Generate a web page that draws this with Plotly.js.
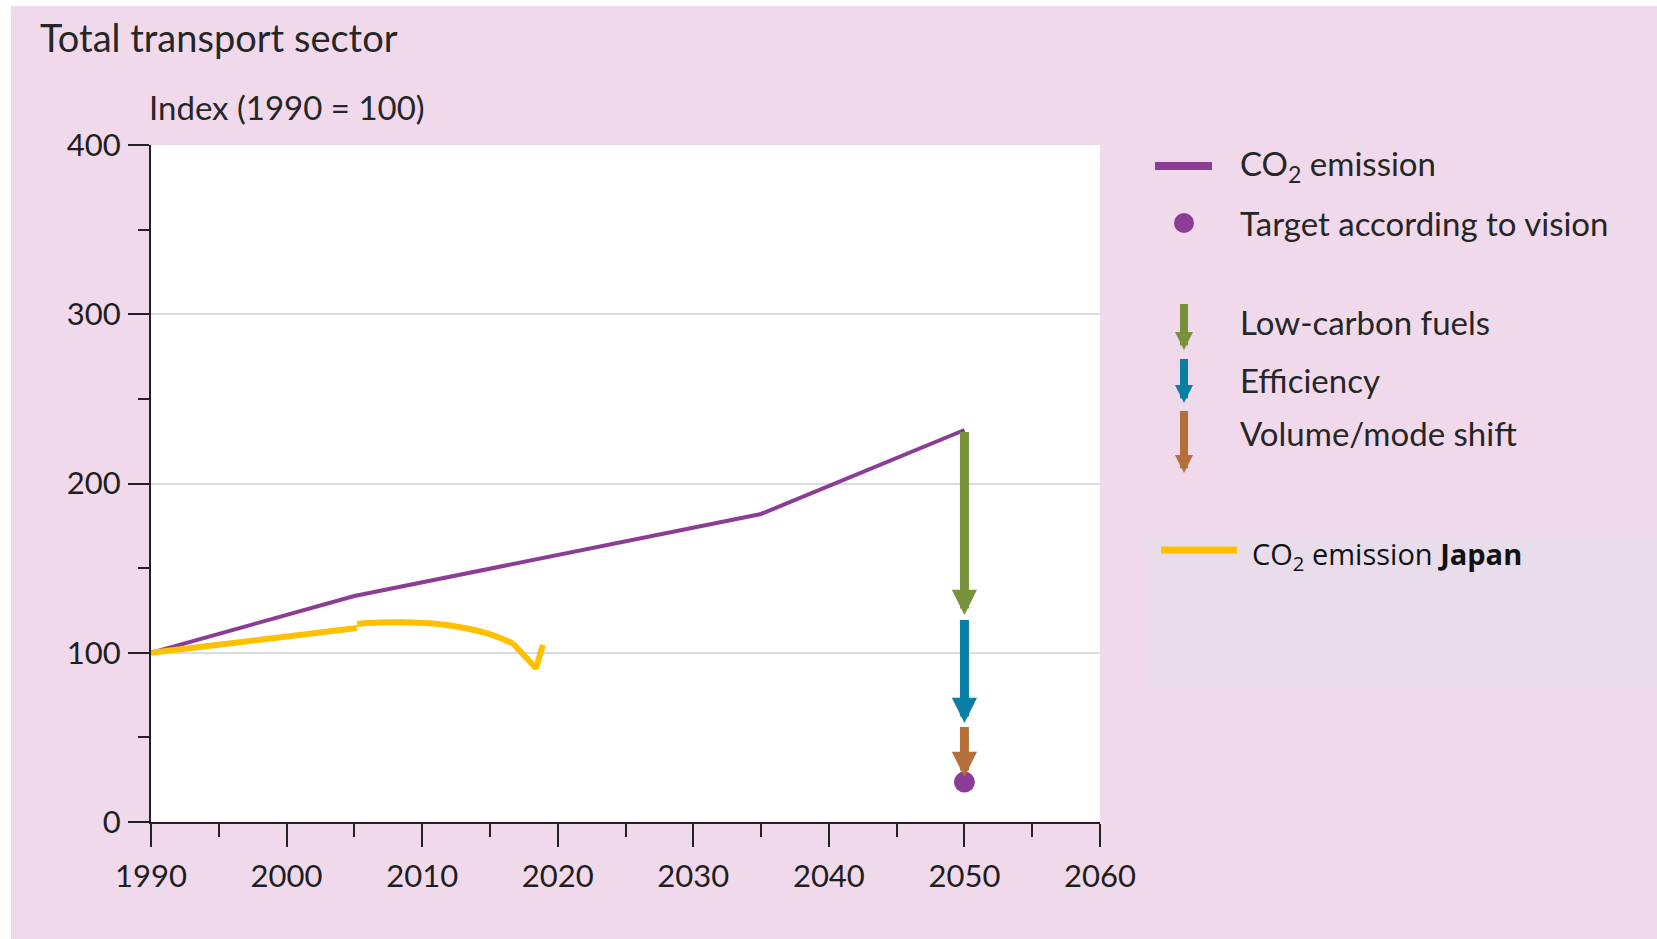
<!DOCTYPE html>
<html>
<head>
<meta charset="utf-8">
<script src="https://cdn.plot.ly/plotly-3.0.1.min.js"></script>
<style>
  html, body { margin: 0; padding: 0; background: #ffffff; }
  #chart { position: absolute; left: 11px; top: 6px; width: 1646px; height: 933px; }
</style>
</head>
<body>
<div id="chart"></div>
<script>
// ---- data ----
const co2Years = [1990, 2005, 2035, 2050];
const co2Values = [100, 133.5, 182, 231.6];

const targetYear = [2050];
const targetValue = [23.6];

const measureNames = ['Low-carbon fuels', 'Efficiency', 'Volume/mode shift'];
const measureYear = 2050;
const measureFrom = [231.6, 120.5, 57.3];
const measureTo = [122.3, 58.5, 26.6];
const measureColors = ['#77923b', '#0b7ea5', '#b56f3a'];

const japanYearsA = [1990, 2005.2];
const japanValuesA = [100, 114.6];
const japanYearsB = [2005.2, 2006.8, 2008.6, 2010.5, 2012.3, 2014.8, 2016.7];
const japanValuesB = [117.0, 117.8, 118.0, 117.4, 115.8, 111.4, 105.5];
const japanYearsC = [2016.7, 2018.4, 2018.9];
const japanValuesC = [105.5, 90.8, 104.6];

const xTicks = [1990, 2000, 2010, 2020, 2030, 2040, 2050, 2060];
const yTicks = [0, 100, 200, 300, 400];

// ---- style ----
const PURPLE = '#8b3d96';
const YELLOW = '#ffc000';
const PINK = '#f0d9eb';
const TXT = '#262626';
const FONT = 'Lato, "Open Sans", sans-serif';

// plot-area pixel geometry helpers for paper-anchored legend items
const L = 151, R = 1100, T = 145, B = 822;
const px = X => (X - L) / (R - L);
const py = Y => (B - Y) / (B - T);

const traces = [
  { x: co2Years, y: co2Values, mode: 'lines', line: { color: PURPLE, width: 4 }, hoverinfo: 'skip' },
  { x: japanYearsA, y: japanValuesA, mode: 'lines', line: { color: YELLOW, width: 6 }, hoverinfo: 'skip' },
  { x: japanYearsB, y: japanValuesB, mode: 'lines', line: { color: YELLOW, width: 6, shape: 'spline', smoothing: 1 }, hoverinfo: 'skip' },
  { x: japanYearsC, y: japanValuesC, mode: 'lines', line: { color: YELLOW, width: 6 }, hoverinfo: 'skip' },
  { x: targetYear, y: targetValue, mode: 'markers', marker: { color: PURPLE, size: 21 }, hoverinfo: 'skip' }
];

const annotations = [];
// vertical measure arrows at 2050
measureNames.forEach((n, i) => {
  annotations.push({
    x: measureYear, y: measureTo[i], ax: measureYear, ay: measureFrom[i],
    xref: 'x', yref: 'y', axref: 'x', ayref: 'y',
    text: ' ', showarrow: true, arrowhead: 2, arrowsize: 0.56, arrowwidth: 9,
    arrowcolor: measureColors[i], standoff: 0, startstandoff: 0, font: { size: 1 }
  });
});

// titles
annotations.push({
  x: px(38), y: py(37), xref: 'paper', yref: 'paper', xanchor: 'left', yanchor: 'middle',
  text: 'Total transport sector', showarrow: false, font: { family: FONT, size: 38, color: TXT }
});
annotations.push({
  x: px(147), y: py(107), xref: 'paper', yref: 'paper', xanchor: 'left', yanchor: 'middle',
  text: 'Index (1990 = 100)', showarrow: false, font: { family: FONT, size: 33, color: TXT }
});

// legend texts
const legendTexts = [
  ['CO<sub>2</sub> emission', 166],
  ['Target according to vision', 223],
  [measureNames[0], 322],
  [measureNames[1], 380],
  [measureNames[2], 433]
];
legendTexts.forEach(([t, Y]) => {
  annotations.push({
    x: px(1238), y: py(Y), xref: 'paper', yref: 'paper', xanchor: 'left', yanchor: 'middle',
    text: t, showarrow: false, font: { family: FONT, size: 33, color: TXT }
  });
});
// legend arrow icons
const iconTips = [350, 403, 473];
const iconLens = [48, 46, 64];
measureColors.forEach((c, i) => {
  annotations.push({
    x: px(1184), y: py(iconTips[i]), xref: 'paper', yref: 'paper',
    ax: 0, ay: -iconLens[i], text: ' ', showarrow: true, font: { size: 1 },
    arrowhead: 2, arrowsize: 0.45, arrowwidth: 8, arrowcolor: c, standoff: 0
  });
});
// Japan legend text
annotations.push({
  x: px(1250), y: py(555), xref: 'paper', yref: 'paper', xanchor: 'left', yanchor: 'middle',
  text: 'CO<sub>2</sub> emission <b>Japan</b>', showarrow: false,
  font: { family: '"Open Sans", sans-serif', size: 29, color: '#111' }
});

const shapes = [
  // Japan legend box
  { type: 'rect', xref: 'paper', yref: 'paper', x0: px(1145), x1: px(1700), y0: py(687), y1: py(535),
    fillcolor: '#e9ddeb', line: { width: 0 }, layer: 'below' },
  // purple legend line
  { type: 'line', xref: 'paper', yref: 'paper', x0: px(1155), x1: px(1212), y0: py(166), y1: py(166),
    line: { color: PURPLE, width: 8 } },
  // target dot legend
  { type: 'circle', xref: 'paper', yref: 'paper', xsizemode: 'pixel', ysizemode: 'pixel',
    xanchor: px(1184), yanchor: py(223), x0: -10, x1: 10, y0: -10, y1: 10,
    fillcolor: PURPLE, line: { width: 0 } },
  // yellow legend line
  { type: 'line', xref: 'paper', yref: 'paper', x0: px(1161), x1: px(1237), y0: py(550), y1: py(550),
    line: { color: YELLOW, width: 7 } }
];

const layout = {
  width: 1646, height: 933,
  margin: { l: 140, r: 557, t: 139, b: 117, pad: 0 },
  paper_bgcolor: PINK, plot_bgcolor: '#ffffff',
  showlegend: false,
  font: { family: FONT, color: TXT },
  xaxis: {
    range: [1990, 2060], tickvals: xTicks, ticktext: xTicks.map(String),
    ticks: 'outside', ticklen: 23, tickwidth: 2, tickcolor: '#222',
    minor: { dtick: 5, tick0: 1990, ticks: 'outside', ticklen: 13, tickwidth: 2, tickcolor: '#222', showgrid: false },
    showline: true, linecolor: '#222', linewidth: 2,
    showgrid: false, zeroline: false,
    tickfont: { family: FONT, size: 31, color: '#1e1e1e' }, ticklabelstandoff: 3,
    fixedrange: true
  },
  yaxis: {
    range: [0, 400], tickvals: yTicks, ticktext: yTicks.map(String),
    ticks: 'outside', ticklen: 21, tickwidth: 2, tickcolor: '#222',
    minor: { dtick: 50, tick0: 0, ticks: 'outside', ticklen: 11, tickwidth: 2, tickcolor: '#222', showgrid: false },
    showline: true, linecolor: '#222', linewidth: 2,
    showgrid: true, gridcolor: '#d9dce1', gridwidth: 2, zeroline: false,
    tickfont: { family: FONT, size: 31, color: '#1e1e1e' }, ticklabelstandoff: 1,
    fixedrange: true
  },
  annotations: annotations,
  shapes: shapes
};

Plotly.newPlot('chart', traces, layout, { displayModeBar: false, staticPlot: true });
</script>
</body>
</html>
